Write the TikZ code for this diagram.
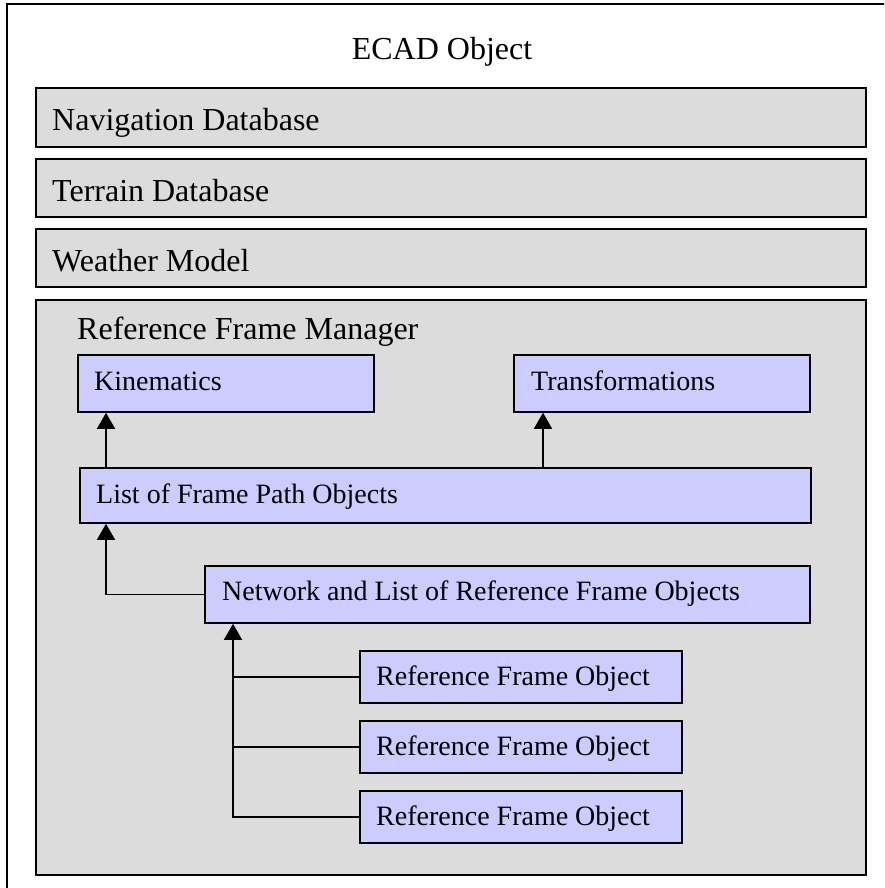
\documentclass[tikz,border=0pt]{standalone}
\usepackage{fontspec}
\setmainfont{Liberation Serif}
\usetikzlibrary{arrows.meta}
\definecolor{boxgray}{RGB}{220,220,220}
\definecolor{boxblue}{RGB}{204,204,255}
\begin{document}
\begin{tikzpicture}[x=1pt,y=-1pt,
  graybox/.style={draw=black, line width=2.2pt, fill=boxgray, anchor=north west, inner sep=0pt},
  bluebox/.style={draw=black, line width=1.8pt, fill=boxblue, anchor=north west, inner sep=0pt},
  bigtext/.style={font=\fontsize{32}{36}\selectfont, inner sep=0pt},
  smalltext/.style={font=\fontsize{28}{32}\selectfont, inner sep=0pt},
  conn/.style={line width=1.5pt, draw=black},
  arr/.style={conn, -{Triangle[length=16pt,width=18pt]}}]
\useasboundingbox (0,0) rectangle (884,888);
\clip (0,0) rectangle (884,888);
% outer frame
\draw[line width=2pt] (7,4) rectangle (900,900);
\node[bigtext, anchor=base] (title) at (442,60) {ECAD Object};
% gray layers
\node[graybox, minimum width=830pt, minimum height=59pt] (nav) at (35,87) {};
\node[bigtext, anchor=base west] (navt) at (52,131) {Navigation Database};
\node[graybox, minimum width=830pt, minimum height=58pt] (ter) at (35,158) {};
\node[bigtext, anchor=base west] (tert) at (52,201) {Terrain Database};
\node[graybox, minimum width=830pt, minimum height=58pt] (wea) at (35,228) {};
\node[bigtext, anchor=base west] (weat) at (52,271) {Weather Model};
\node[graybox, minimum width=830pt, minimum height=575pt] (rfm) at (35,299) {};
\node[bigtext, anchor=base west] (rfmt) at (77,339) {Reference Frame Manager};
% blue boxes
\node[bluebox, minimum width=296pt, minimum height=57pt] (kin) at (77,354) {};
\node[smalltext, anchor=base west] (kint) at (94,390) {Kinematics};
\node[bluebox, minimum width=296pt, minimum height=57pt] (trans) at (513,354) {};
\node[smalltext, anchor=base west] (transt) at (531,390) {Transformations};
\node[bluebox, minimum width=731pt, minimum height=55pt] (list) at (79,467) {};
\node[smalltext, anchor=base west] (listt) at (96,503) {List of Frame Path Objects};
\node[bluebox, minimum width=605pt, minimum height=57pt] (net) at (204,565) {};
\node[smalltext, anchor=base west] (nett) at (222,600) {Network and List of Reference Frame Objects};
\node[bluebox, minimum width=322pt, minimum height=52pt] (rfo1) at (359,650) {};
\node[smalltext, anchor=base west] (rfo1t) at (376,685) {Reference Frame Object};
\node[bluebox, minimum width=322pt, minimum height=52pt] (rfo2) at (359,720) {};
\node[smalltext, anchor=base west] (rfo2t) at (376,755) {Reference Frame Object};
\node[bluebox, minimum width=322pt, minimum height=52pt] (rfo3) at (359,790) {};
\node[smalltext, anchor=base west] (rfo3t) at (376,825) {Reference Frame Object};
% connectors
\coordinate (kinin) at ([xshift=29pt]kin.south west);
\coordinate (transin) at ([xshift=30pt]trans.south west);
\coordinate (listin) at ([xshift=27pt]list.south west);
\coordinate (netin) at ([xshift=29pt]net.south west);
\draw[arr] (kinin |- list.north) -- (kinin);
\draw[arr] (transin |- list.north) -- (transin);
\draw[arr] (net.west) -| (listin);
\draw[arr] (rfo3.west) -| (netin);
\draw[conn] (rfo1.west) -- (rfo1.west -| netin);
\draw[conn] (rfo2.west) -- (rfo2.west -| netin);
\end{tikzpicture}
\end{document}
